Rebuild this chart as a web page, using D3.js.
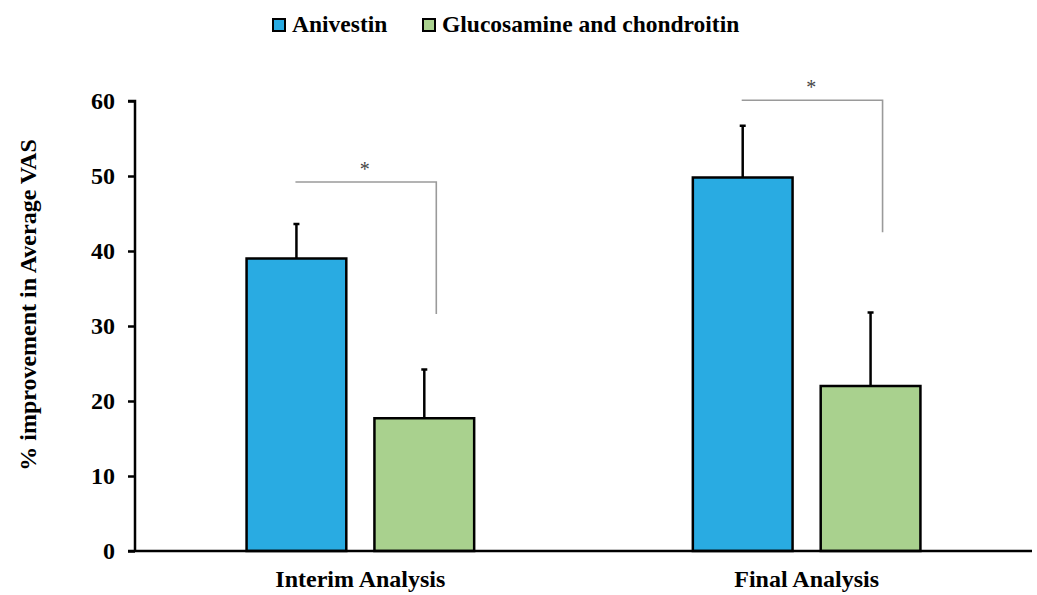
<!DOCTYPE html>
<html>
<head>
<meta charset="utf-8">
<script src="https://cdn.jsdelivr.net/npm/d3@7"></script>
<style>
  body { margin: 0; background: #fff; }
  text { font-family: "Liberation Serif", "Times New Roman", serif; }
</style>
</head>
<body>
<div id="chart"></div>
<script>
var svgWidth = 1037;
var svgHeight = 595;

var margin = { top: 101, bottom: 44, left: 135, right: 5 };
var height = svgHeight - margin.top - margin.bottom;   // 0 at y=551
var width = 1032 - margin.left;

// data
var categories = ["Interim Analysis", "Final Analysis"];
var seriesNames = ["Anivestin", "Glucosamine and chondroitin"];
var seriesColors = ["#29abe2", "#a9d18e"];
var anivestin = [39.0, 49.8];
var anivestinErr = [4.6, 6.9];
var glucosamine = [17.7, 22.0];
var glucosamineErr = [6.5, 9.8];
var bracketTop = [49.2, 60.1];
var bracketBottom = [31.6, 42.5];
var yTicks = [0, 10, 20, 30, 40, 50, 60];

var svg = d3.select("#chart").append("svg")
  .attr("width", svgWidth)
  .attr("height", svgHeight);

var chartGroup = svg.append("g")
  .attr("transform", `translate(${margin.left}, ${margin.top})`);

var x0 = d3.scaleBand()
  .domain(categories)
  .range([0, width])
  .paddingInner(0.49)
  .paddingOuter(0.25);

var x1 = d3.scaleBand()
  .domain(seriesNames)
  .range([0, x0.bandwidth()])
  .paddingInner(0.22);

var y = d3.scaleLinear()
  .domain([0, 60])
  .range([height, 0]);

var rows = [];
categories.forEach(function(c, i) {
  rows.push({ cat: c, s: seriesNames[0], v: anivestin[i], e: anivestinErr[i], col: seriesColors[0] });
  rows.push({ cat: c, s: seriesNames[1], v: glucosamine[i], e: glucosamineErr[i], col: seriesColors[1] });
});

// error bars (drawn behind bars)
var errG = chartGroup.selectAll(".err")
  .data(rows)
  .enter()
  .append("g")
  .attr("class", "err");

errG.append("line")
  .attr("x1", d => x0(d.cat) + x1(d.s) + x1.bandwidth() / 2)
  .attr("x2", d => x0(d.cat) + x1(d.s) + x1.bandwidth() / 2)
  .attr("y1", d => y(d.v))
  .attr("y2", d => y(d.v + d.e))
  .attr("stroke", "#000")
  .attr("stroke-width", 2.5);

errG.append("line")
  .attr("x1", d => x0(d.cat) + x1(d.s) + x1.bandwidth() / 2 - 3)
  .attr("x2", d => x0(d.cat) + x1(d.s) + x1.bandwidth() / 2 + 3)
  .attr("y1", d => y(d.v + d.e))
  .attr("y2", d => y(d.v + d.e))
  .attr("stroke", "#000")
  .attr("stroke-width", 2.5);

// bars
chartGroup.selectAll(".bar")
  .data(rows)
  .enter()
  .append("rect")
  .attr("class", "bar")
  .attr("x", d => x0(d.cat) + x1(d.s))
  .attr("y", d => y(d.v))
  .attr("width", x1.bandwidth())
  .attr("height", d => height - y(d.v))
  .attr("fill", d => d.col)
  .attr("stroke", "#000")
  .attr("stroke-width", 2.5);

// significance brackets
categories.forEach(function(c, i) {
  var xs = x0(c) + x1(seriesNames[0]) + x1.bandwidth() / 2 - 1;
  var xe = x0(c) + x1(seriesNames[1]) + x1.bandwidth() / 2 + 12;
  chartGroup.append("path")
    .attr("d", `M${xs},${y(bracketTop[i])}H${xe}V${y(bracketBottom[i])}`)
    .attr("fill", "none")
    .attr("stroke", "#9a9a9a")
    .attr("stroke-width", 1.6);
  chartGroup.append("text")
    .attr("x", (xs + xe) / 2 - 1)
    .attr("y", y(bracketTop[i]) - 6)
    .attr("text-anchor", "middle")
    .style("font-size", "20px")
    .style("fill", "#444")
    .text("*");
});

// axes
var yAxis = d3.axisLeft(y).tickValues(yTicks).tickSize(7).tickPadding(13);
var yG = chartGroup.append("g").call(yAxis);
yG.select(".domain").attr("stroke-width", 2.5).attr("d", `M-7,0H0V${height}`);
yG.selectAll(".tick line").attr("stroke-width", 2.5);
yG.selectAll(".tick text")
  .style("font-family", "'Liberation Serif', serif")
  .style("font-weight", "bold")
  .style("font-size", "24px")
  .attr("fill", "#000");

var xG = chartGroup.append("g")
  .attr("transform", `translate(0, ${height})`)
  .call(d3.axisBottom(x0).tickSize(0).tickPadding(19));
xG.select(".domain").attr("stroke-width", 2.5).attr("d", `M-7,0H${width}`);
xG.selectAll(".tick text")
  .style("font-family", "'Liberation Serif', serif")
  .style("font-weight", "bold")
  .style("font-size", "24px")
  .attr("fill", "#000");

// y axis title
svg.append("text")
  .attr("transform", "translate(36, 305) rotate(-90)")
  .attr("text-anchor", "middle")
  .style("font-weight", "bold")
  .style("font-size", "24px")
  .text("% improvement in Average VAS");

// legend
var legendX = [273, 423];
seriesNames.forEach(function(s, i) {
  svg.append("rect")
    .attr("x", legendX[i])
    .attr("y", 19)
    .attr("width", 12)
    .attr("height", 12)
    .attr("fill", seriesColors[i])
    .attr("stroke", "#000")
    .attr("stroke-width", 2);
  svg.append("text")
    .attr("x", legendX[i] + 19)
    .attr("y", 32)
    .style("font-weight", "bold")
    .style("font-size", "23.5px")
    .text(s);
});
</script>
</body>
</html>
